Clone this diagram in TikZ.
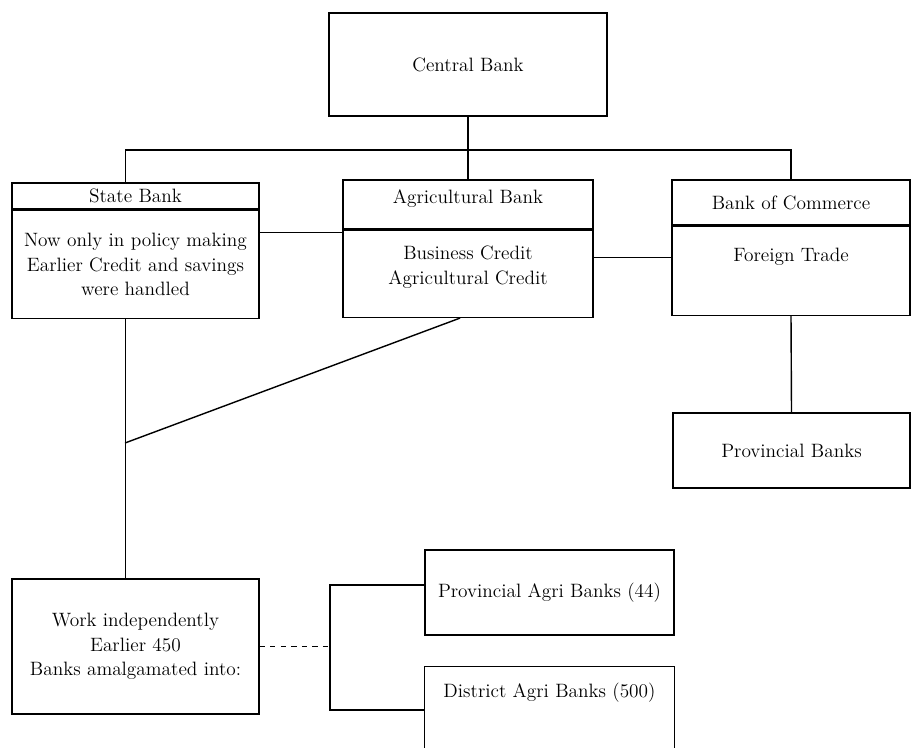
\documentclass[tikz,border=0pt]{standalone}
\usepackage{tikz}
\usetikzlibrary{positioning,calc}

\begin{document}
\begin{tikzpicture}[x=0.02cm, y=-0.02cm, font=\fontsize{11}{14}\selectfont, thick, box/.style={draw, rectangle, align=center, inner sep=2pt}]
        \useasboundingbox (0,0) rectangle (912,747);
        \clip (0,0) rectangle (912,747);

        % Central bank
        \node[box, minimum width=5.56cm, minimum height=2.06cm] (cb) at (468,64.5) {Central Bank};

        % State bank
        \node[box, minimum width=4.94cm, minimum height=0.52cm] (statehead) at (135.5,196) {State Bank};
        \node[box, minimum width=4.94cm, minimum height=2.16cm, below=0pt of statehead] (statebody) {Now only in policy making\\Earlier Credit and savings\\were handled};

        % Agricultural bank
        \node[box, minimum width=5cm, minimum height=0.98cm, text depth=0.3cm] (agrihead) at (468,204.5) {Agricultural Bank};
        \node[box, minimum width=5cm, minimum height=1.74cm, below=0pt of agrihead, text depth=0.35cm] (agribody) {Business Credit\\Agricultural Credit};

        % Bank of commerce
        \node[box, minimum width=4.76cm, minimum height=0.9cm] (cohead) at (791,202.5) {Bank of Commerce};
        \node[box, minimum width=4.76cm, minimum height=1.78cm, below=0pt of cohead, text depth=0.63cm] (cobody) {Foreign Trade};
        \node[box, minimum width=4.74cm, minimum height=1.5cm] (prov) at (791.5,450.5) {Provincial Banks};

        % Work independently
        \node[box, minimum width=4.94cm, minimum height=2.7cm] (work) at (135.5,646.5) {Work independently\\Earlier 450\\Banks amalgamated into:};

        % Agri banks
        \node[box, minimum width=4.98cm, minimum height=1.7cm] (provagri) at (549.5,592.5) {Provincial Agri Banks (44)};
        \node[align=center, minimum width=4.98cm, minimum height=1.04cm] (dist) at (549.5,693) {District Agri Banks (500)};
        \draw ([yshift=-2cm]dist.south west) -- (dist.north west) -- (dist.north east) -- ([yshift=-2cm]dist.south east);

        % Connections
        \coordinate (bus) at (468,150);
        \draw (cb.south) -- (agrihead.north);
        \draw ([xshift=-0.2cm]statehead.north) |- (bus) -| (cohead.north);
        \draw ([yshift=0.64cm]statebody.east) -- ([yshift=0.64cm]statebody.east -| agribody.west);
        \draw ([yshift=0.33cm]agribody.east) -- ([yshift=0.33cm]agribody.east -| cobody.west);
        \draw (cobody.south) -- (prov.north);

        \coordinate (join) at (125,443);
        \draw ([xshift=-0.2cm]statebody.south) -- ([xshift=-0.2cm]work.north);
        \draw ([xshift=-0.16cm]agribody.south) -- (join);

        \coordinate (brk) at (330,649);
        \draw[dashed] (work.east) -- (work.east -| brk);
        \draw ([yshift=0.15cm]provagri.west) -| (brk) |- ([yshift=-0.34cm]dist.west);

    \end{tikzpicture}
\end{document}
